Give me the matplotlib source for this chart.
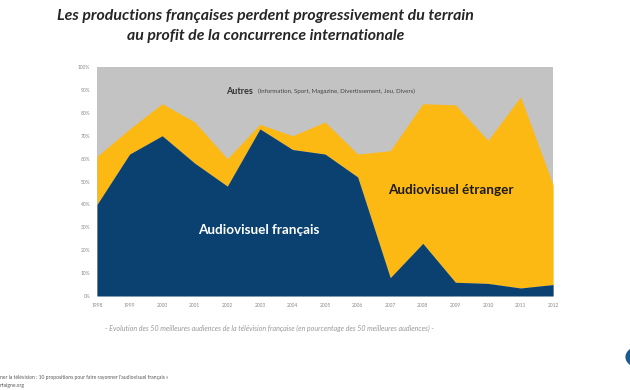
import matplotlib
matplotlib.use("Agg")
import matplotlib.pyplot as plt
from matplotlib.patches import Circle

# ─── données ──────────────────────────────────────────────────────────────────

years = list(range(1998, 2013))
# part de l'audiovisuel français (en % des 50 meilleures audiences)
fr = [40, 62, 70, 58, 48, 73, 64, 62, 52, 8, 23, 6, 5.5, 3.5, 5]
# part de l'audiovisuel étranger
etr = [21, 11, 14, 18, 12, 2, 6, 14, 10, 55.5, 61, 77.5, 62.5, 83.5, 43.5]

y_ticks = list(range(0, 101, 10))
y_labels = [f"{v}%" for v in y_ticks]

NAVY = "#0b4170"
YELLOW = "#fdb913"
GREY = "#c3c3c3"

plt.rcParams["font.family"] = ["Lato", "DejaVu Sans"]

fig = plt.figure(figsize=(6.3, 3.9), dpi=100)
ax = fig.add_axes([0.154, 0.241, 0.724, 0.587])

top = [a + b for a, b in zip(fr, etr)]
ax.fill_between(years, 0, 100, color=GREY, lw=0)
ax.fill_between(years, fr, top, color=YELLOW, lw=0)
ax.fill_between(years, 0, fr, color=NAVY, lw=0)

ax.set_xlim(years[0], years[-1])
ax.set_ylim(0, 100)
ax.set_xticks(years)
ax.set_xticklabels([str(y) for y in years], fontsize=3.5, color="#888888")
ax.set_yticks(y_ticks)
ax.set_yticklabels(y_labels, fontsize=3.5, color="#888888")
ax.tick_params(length=0, pad=5)
for s in ax.spines.values():
    s.set_visible(False)

# étiquettes dans le graphique
ax.text(2001.95, 89.5, "Autres", fontsize=6.5, fontweight="bold", color="#333333",
        va="center", ha="left")
ax.text(2002.95, 89.3, "(Information, Sport, Magazine, Divertissement, Jeu, Divers)",
        fontsize=4.4, color="#444444", va="center", ha="left")
ax.text(2002.97, 29, "Audiovisuel français", fontsize=9.7, fontweight="bold",
        color="white", ha="center", va="center")
ax.text(2008.87, 46.5, "Audiovisuel étranger", fontsize=9.7, fontweight="bold",
        color="#1a1a1a", ha="center", va="center")

# titre
fig.text(0.421, 0.978,
         "Les productions françaises perdent progressivement du terrain\n"
         "au profit de la concurrence internationale",
         fontsize=11.4, fontweight="bold", fontstyle="italic", color="#262626",
         ha="center", va="top", linespacing=1.6)

# légende sous le graphique
fig.text(0.428, 1 - 328 / 390,
         "- Evolution des 50 meilleures audiences de la télévision française "
         "(en pourcentage des 50 meilleures audiences) -",
         fontsize=5.1, fontstyle="italic", color="#999999", ha="center", va="center")

# source coupée en bas à gauche
fig.text(0.0, 1 - 377 / 390,
         "ner la télévision : 10 propositions pour faire rayonner l'audiovisuel français »",
         fontsize=3.6, color="#555555", ha="left", va="center")
fig.text(0.0, 1 - 385 / 390, "ntaigne.org",
         fontsize=3.6, color="#555555", ha="left", va="center")

# pastille bleue coupée à droite
fig.patches.append(Circle((645 / 630, 1 - 357 / 390), 0.03, color="#1d5a8c",
                          transform=fig.transFigure, figure=fig))

fig.savefig("out.png", dpi=100)
